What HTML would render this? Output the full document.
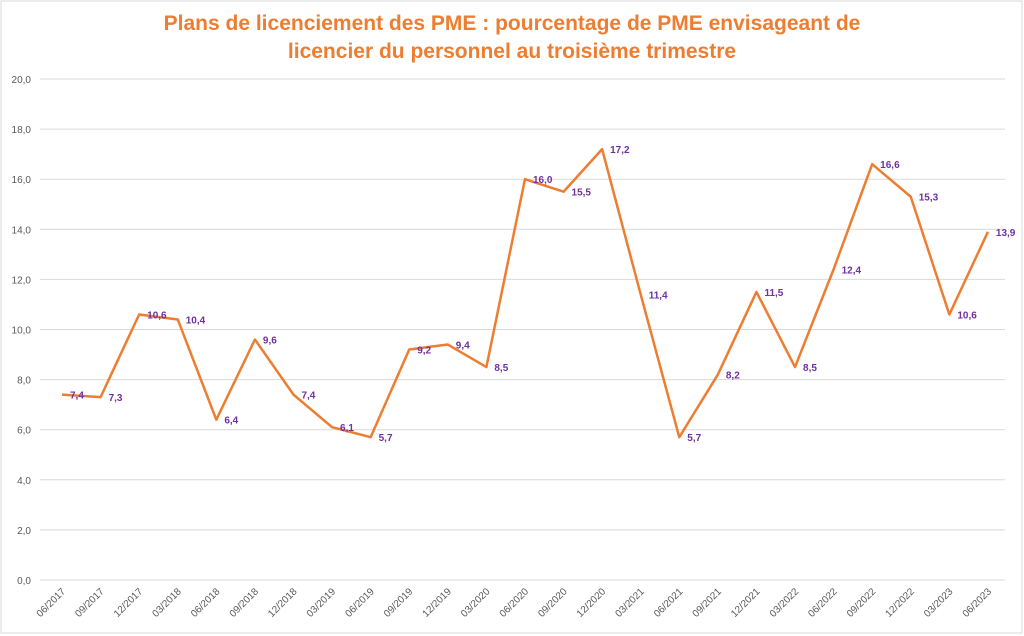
<!DOCTYPE html>
<html><head><meta charset="utf-8"><style>
html,body{margin:0;padding:0;background:#fff}
svg{display:block;font-family:"Liberation Sans",sans-serif}
</style></head><body>
<svg width="1024" height="636" viewBox="0 0 1024 636" xmlns="http://www.w3.org/2000/svg">
<rect x="1" y="1" width="1021" height="632" fill="#fff" stroke="#d9d9d9"/>
<text x="512" y="30" text-anchor="middle" font-size="21" font-weight="bold" fill="#ED7D31">Plans de licenciement des PME : pourcentage de PME envisageant de</text>
<text x="512" y="58" text-anchor="middle" font-size="21" font-weight="bold" fill="#ED7D31">licencier du personnel au troisième trimestre</text>
<g id="grid" stroke="#d9d9d9" stroke-width="1"></g>
<g id="yl" font-size="10" fill="#595959" text-anchor="end"></g>
<g id="xl" font-size="10" fill="#595959" text-anchor="end"></g>
<polyline id="ln" fill="none" stroke="#ED7D31" stroke-width="2.5" stroke-linejoin="round"/>
<g id="dl" font-size="10" font-weight="bold" fill="#7030A0"></g>
</svg>
<script>
var d=[7.4,7.3,10.6,10.4,6.4,9.6,7.4,6.1,5.7,9.2,9.4,8.5,16.0,15.5,17.2,11.4,5.7,8.2,11.5,8.5,12.4,16.6,15.3,10.6,13.9];
var lab=["06/2017","09/2017","12/2017","03/2018","06/2018","09/2018","12/2018","03/2019","06/2019","09/2019","12/2019","03/2020","06/2020","09/2020","12/2020","03/2021","06/2021","09/2021","12/2021","03/2022","06/2022","09/2022","12/2022","03/2023","06/2023"];
var NS="http://www.w3.org/2000/svg";
function Y(v){return 580-v*25.05}function X(i){return 62+38.58*i}
function el(t,a,p,txt){var e=document.createElementNS(NS,t);for(var k in a)e.setAttribute(k,a[k]);if(txt!=null)e.textContent=txt;document.getElementById(p).appendChild(e);}
for(var v=0;v<=20;v+=2){el("line",{x1:40,x2:1005,y1:Y(v),y2:Y(v)},"grid");el("text",{x:31,y:Y(v)+4},"yl",v.toFixed(1).replace(".",","));}
var pts=[];
d.forEach(function(v,i){pts.push(X(i)+","+Y(v));
el("text",{x:X(i)+4,y:592,transform:"rotate(-45 "+(X(i)+4)+" 592)"},"xl",lab[i]);
el("text",{x:X(i)+8,y:Y(v)+4},"dl",v.toFixed(1).replace(".",","));});
document.getElementById("ln").setAttribute("points",pts.join(" "));
</script>
</body></html>
